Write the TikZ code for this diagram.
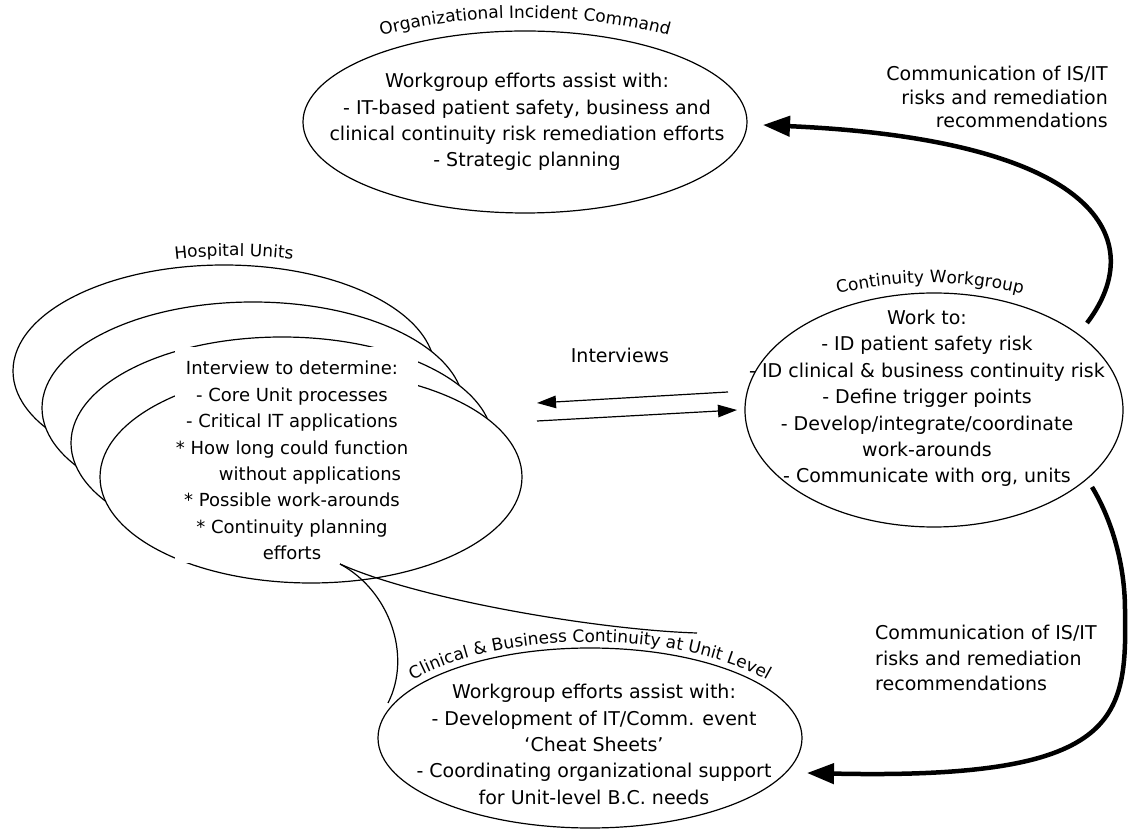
\documentclass[tikz,border=0pt]{standalone}
\usepackage{fontspec}
\setmainfont{DejaVu Sans}
\usetikzlibrary{shapes.geometric, arrows.meta, decorations.text}
\newcommand\ttlfnt{\fontsize{17}{20}\selectfont}
\begin{document}
\begin{tikzpicture}[x=1pt,y=1pt,
  bodytext/.style={font=\fontsize{19}{26.4}\selectfont, align=center, inner sep=0pt},
  hosptext/.style={font=\fontsize{18}{26.4}\selectfont, align=center, inner sep=0pt},
  oval/.style={draw, ellipse, line width=1.2pt, inner sep=0pt},
  thinarrow/.style={line width=1.2pt, -{Triangle[length=19pt,width=12.5pt]}},
  thickarrow/.style={line width=4.5pt, -{Triangle[length=27pt,width=20pt]}},
  tailline/.style={line width=1.2pt}]
\path[use as bounding box, fill=white] (0,0) rectangle (1128,831);

% Organizational Incident Command
\node[oval, minimum width=444pt, minimum height=182pt] (org) at (525,709) {};
\node[bodytext] (orgtext) at (527,709) {Workgroup efforts assist with:\\- IT-based patient safety, business and\\clinical continuity risk remediation efforts\\- Strategic planning};
\path[decorate, decoration={text along path, text align=center, text={|\ttlfnt|Organizational Incident Command}}] (267,709) arc[start angle=180, end angle=0, x radius=258, y radius=104];

% Hospital Units (stack)
\node[oval, fill=white, minimum width=422pt, minimum height=212pt] (hu1) at (224,460) {};
\node[oval, fill=white, minimum width=422pt, minimum height=212pt] (hu2) at (253,423) {};
\node[oval, fill=white, minimum width=422pt, minimum height=212pt] (hu3) at (282,388) {};
\node[oval, fill=white, minimum width=422pt, minimum height=212pt] (hu4) at (311,354) {};
\node[fill=white, inner sep=0pt, minimum width=243pt, minimum height=216pt] (humask) at (296.5,376) {};
\node[hosptext] (hutext) at (292,370.5) {Interview to determine:\\- Core Unit processes\\- Critical IT applications\\* How long could function\\\hspace*{36pt}without applications\\* Possible work-arounds\\* Continuity planning\\efforts};
\path[decorate, decoration={text along path, text align=center, text={|\ttlfnt|Hospital Units}}] (-16,460) arc[start angle=180, end angle=0, x radius=250, y radius=115];

% Continuity Workgroup
\node[oval, minimum width=378pt, minimum height=234pt] (cw) at (934,421) {};
\node[bodytext] (cwtext) at (927,432.5) {Work to:\\- ID patient safety risk\\- ID clinical \& business continuity risk\\- Define trigger points\\- Develop/integrate/coordinate\\work-arounds\\- Communicate with org, units};
\path[decorate, decoration={text along path, text align=center, text={|\ttlfnt|Continuity Workgroup}}] (701,421) arc[start angle=180, end angle=0, x radius=229, y radius=127];

% Clinical & Business Continuity at Unit Level
\node[oval, minimum width=424pt, minimum height=180pt] (cb) at (590,93) {};
\node[bodytext] (cbtext) at (594,86.5) {Workgroup efforts assist with:\\- Development of IT/Comm. event\\‘Cheat Sheets’\\- Coordinating organizational support\\for Unit-level B.C. needs};
\path[decorate, decoration={text along path, text align=center, text={|\ttlfnt|Clinical {\&} Business Continuity at Unit Level}}] (368,93) arc[start angle=180, end angle=0, x radius=222, y radius=96];

% Communication labels
\node[inner sep=0pt, align=right, anchor=east, font=\fontsize{19}{23.5}\selectfont] (commtop) at (1108,734) {Communication of IS/IT\\risks and remediation\\recommendations};
\node[inner sep=0pt, align=left, anchor=west, font=\fontsize{19}{25.5}\selectfont] (commbot) at (875,173) {Communication of IS/IT\\risks and remediation\\recommendations};

% Interviews
\node[inner sep=0pt, font=\fontsize{19}{22}\selectfont] (intlabel) at (620,476) {Interviews};
\coordinate (i1s) at (728,439);
\coordinate (i1e) at (537,428);
\coordinate (i2s) at (537,410);
\coordinate (i2e) at (737,421);
\draw[thinarrow] (i1s) -- (i1e);
\draw[thinarrow] (i2s) -- (i2e);

% Thick communication arrows
\coordinate (t1s) at (1087,508);
\coordinate (t1e) at (763,706);
\draw[thickarrow] (t1s) .. controls (1150,591) and (1100,691) .. (t1e);
\coordinate (b1s) at (1092,344);
\coordinate (b1m) at (1125,221);
\coordinate (b1e) at (807,58);
\draw[thickarrow] (b1s) .. controls (1112,311) and (1125,266) .. (b1m) .. controls (1127,111) and (1120,51) .. (b1e);

% Callout tail
\coordinate (tip) at (340,267);
\coordinate (tailA) at (388,128);
\coordinate (tailB) at (697,198);
\draw[tailline] (tip) .. controls (390,240) and (412,175) .. (tailA);
\draw[tailline] (tip) .. controls (420,231) and (600,201) .. (tailB);
\end{tikzpicture}
\end{document}
